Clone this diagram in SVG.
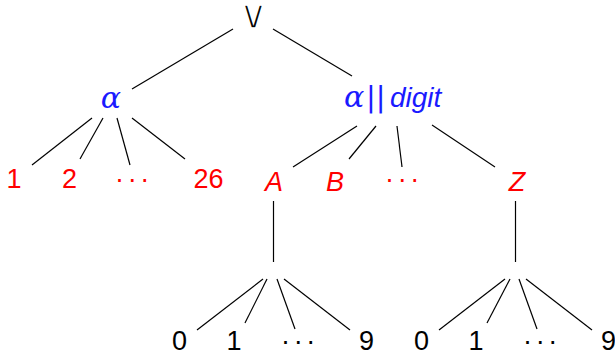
<svg xmlns="http://www.w3.org/2000/svg" width="615" height="354" viewBox="0 0 615 354">
<style>
.e{stroke:#000;stroke-width:1.2;stroke-linecap:butt;fill:none}
.t{font-family:"Liberation Sans","Arial",sans-serif;font-size:27px;text-anchor:middle}
.red{fill:#ff0000}
.blk{fill:#000}
.blue{fill:#1a1aff}
.ita{font-style:italic}
.dots{letter-spacing:3.6px}
.greek{font-family:"DejaVu Serif","Liberation Serif",serif;font-style:italic;font-size:30px}
</style>
<rect width="615" height="354" fill="#fff"/>
<g id="connectors">
<line class="e" x1="233" y1="29" x2="132" y2="89"/>
<line class="e" x1="273" y1="29" x2="352" y2="76"/>
<line class="e" x1="92" y1="118" x2="32" y2="165"/>
<line class="e" x1="103" y1="118" x2="80" y2="159"/>
<line class="e" x1="117" y1="118" x2="130" y2="165"/>
<line class="e" x1="132" y1="118" x2="185" y2="159"/>
<line class="e" x1="357" y1="126" x2="293" y2="167"/>
<line class="e" x1="376" y1="126" x2="349" y2="159"/>
<line class="e" x1="397" y1="126" x2="402" y2="167"/>
<line class="e" x1="432" y1="125" x2="495" y2="167"/>
<line class="e" x1="273.5" y1="201" x2="273.5" y2="262"/>
<line class="e" x1="263" y1="279" x2="197" y2="330"/>
<line class="e" x1="267" y1="279" x2="245" y2="323"/>
<line class="e" x1="277" y1="279" x2="295" y2="329"/>
<line class="e" x1="284" y1="279" x2="350" y2="330"/>
<line class="e" x1="515.5" y1="201" x2="515.5" y2="262"/>
<line class="e" x1="505" y1="279" x2="439" y2="330"/>
<line class="e" x1="510" y1="279" x2="487" y2="323"/>
<line class="e" x1="519" y1="279" x2="537" y2="329"/>
<line class="e" x1="526" y1="279" x2="592" y2="330"/>
</g>
<g id="root"><text class="t blk" x="253.5" y="28" style="font-family:'DejaVu Sans',sans-serif;font-size:40px;stroke:#fff;stroke-width:1.7px">∨</text></g>
<g id="alpha"><text class="t blue greek" x="111" y="108">α</text></g>
<g id="alphadigit"><text class="blue" y="107" style="font-family:'Liberation Sans',sans-serif;font-size:27px"><tspan x="344" class="greek">α</tspan><tspan x="366" style="font-family:'DejaVu Sans',sans-serif;font-size:29px">||</tspan><tspan x="390" font-style="italic" style="font-size:28px">digit</tspan></text></g>
<g id="n1"><text class="t red" x="14" y="188">1</text></g>
<g id="n2"><text class="t red" x="69.5" y="188">2</text></g>
<g id="ndots1"><text class="t red dots" x="134" y="188">···</text></g>
<g id="n26"><text class="t red" x="208.5" y="188">26</text></g>
<g id="nA"><text class="t red ita" x="274" y="191">A</text></g>
<g id="nB"><text class="t red ita" x="335" y="191">B</text></g>
<g id="ndots2"><text class="t red dots" x="404" y="188">···</text></g>
<g id="nZ"><text class="t red ita" x="517" y="191">Z</text></g>
<g id="a0"><text class="t blk" x="179.5" y="350">0</text></g>
<g id="a1"><text class="t blk" x="234" y="350">1</text></g>
<g id="adots"><text class="t blk dots" x="300" y="350">···</text></g>
<g id="a9"><text class="t blk" x="366.5" y="350">9</text></g>
<g id="z0"><text class="t blk" x="421.5" y="350">0</text></g>
<g id="z1"><text class="t blk" x="476" y="350">1</text></g>
<g id="zdots"><text class="t blk dots" x="542" y="350">···</text></g>
<g id="z9"><text class="t blk" x="608.5" y="350">9</text></g>
</svg>
